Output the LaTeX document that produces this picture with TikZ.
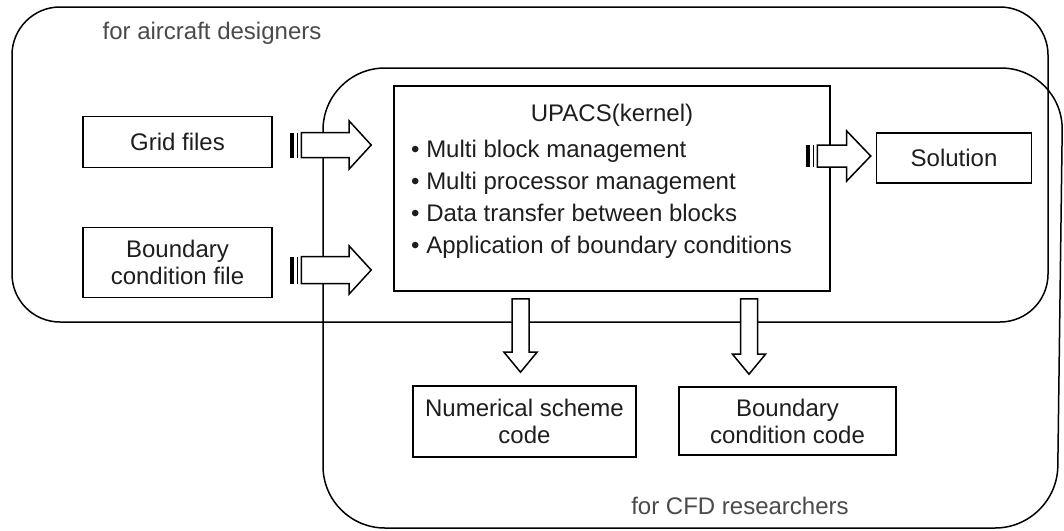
\documentclass[tikz,border=0pt]{standalone}
\usepackage{fontspec}
\setmainfont{Liberation Sans}
\usetikzlibrary{calc}
\definecolor{txt}{HTML}{1E1E1E}
\definecolor{lbl}{HTML}{4A4A4A}
\tikzset{
  frame/.style={draw=black, line width=1.5, rounded corners=#1},
  box/.style={draw=black, line width=1.6, fill=white, inner sep=0pt, align=center,
    text=txt, font=\fontsize{24}{27}\selectfont},
  ktext/.style={anchor=base west, inner sep=0pt, text=txt, font=\fontsize{24}{27}\selectfont},
  grouplabel/.style={inner sep=0pt, text=lbl, font=\fontsize{24}{27}\selectfont},
  arrowbody/.style={draw=black, line width=1.5, fill=white, line join=miter},
}
% striped right arrow: #1 tail point (stripe start), #2 tip point, #3 shaft half height, #4 head half height, #5 head length
\newcommand\stripedarrow[5]{%
  \fill[black] let \p1=(#1) in (\x1,\y1-#3) rectangle (\x1+4.5,\y1+#3);
  \draw[line width=1.5] let \p1=(#1) in (\x1+7.5,\y1-#3) -- (\x1+7.5,\y1+#3);
  \draw[arrowbody] let \p1=(#1), \p2=(#2) in
    (\x1+11.5,\y1-#3) -- (\x2-#5,\y1-#3) -- (\x2-#5,\y1-#4) -- (\x2,\y1)
    -- (\x2-#5,\y1+#4) -- (\x2-#5,\y1+#3) -- (\x1+11.5,\y1+#3) -- cycle;
}
% down block arrow: #1 tail point, #2 tip point
\newcommand\downblockarrow[2]{%
  \draw[arrowbody] let \p1=(#1), \p2=(#2) in
    (\x1-8.5,\y1) -- (\x1+8.5,\y1) -- (\x1+8.5,\y2+20) -- (\x1+16.5,\y2+20) -- (\x1,\y2)
    -- (\x1-16.5,\y2+20) -- (\x1-8.5,\y2+20) -- cycle;
}
\begin{document}
\begin{tikzpicture}[x=1pt,y=-1pt]
\useasboundingbox (0,0) rectangle (1064,530);
\fill[white] (0,0) rectangle (1064,530);

% group frames
\draw[frame=48] (12,7) rectangle (1048,322);
\draw[frame=62] (323,68) -- (1063,68) -- (1057,528) -- (323,528) -- cycle;
\node[grouplabel] (lblair) at (212,33) {for aircraft designers};
\node[grouplabel] (lblcfd) at (740,506) {for CFD researchers};

% boxes
\node[box, minimum width=189, minimum height=51] (grid) at (177.5,142) {Grid files};
\node[box, minimum width=189, minimum height=70] (bcf) at (177.5,262.5) {Boundary\\condition file};
\node[box, minimum width=436, minimum height=205] (kernel) at (612,188.5) {};
\node[box, minimum width=155, minimum height=50] (sol) at (954,158) {Solution};
\node[box, minimum width=223, minimum height=71] (num) at (524.5,421.5) {Numerical scheme\\code};
\node[box, minimum width=217, minimum height=68] (bcc) at (787.5,421) {Boundary\\condition code};

% kernel text
\node[ktext, anchor=base] (ktitle) at (612,121) {UPACS(kernel)};
\node[ktext] (k1) at (411,157) {\textbullet\ Multi block management};
\node[ktext] (k2) at (411,189) {\textbullet\ Multi processor management};
\node[ktext] (k3) at (411,221) {\textbullet\ Data transfer between blocks};
\node[ktext] (k4) at (411,253) {\textbullet\ Application of boundary conditions};

% arrows
\coordinate (ga1) at ($(grid.east)+(17,3)$);
\coordinate (ga2) at ($(kernel.west |- ga1)+(-22,0)$);
\stripedarrow{ga1}{ga2}{12.5}{24}{22}
\coordinate (ba1) at ($(bcf.east)+(17,7.5)$);
\coordinate (ba2) at ($(kernel.west |- ba1)+(-22,0)$);
\stripedarrow{ba1}{ba2}{13.5}{24}{22}
\coordinate (sa1) at ($(kernel.east)+(-25,-32.5)$);
\coordinate (sa2) at ($(sol.west |- sa1)+(-5,0)$);
\stripedarrow{sa1}{sa2}{11}{25}{24}

\coordinate (da1) at (kernel.south -| num.north);
\coordinate (db1) at ($(kernel.south)+(137,0)$);
\downblockarrow{$(da1)+(-4,7)$}{$(num.north)+(-4,-13)$}
\downblockarrow{$(db1)+(0,7)$}{$(db1 |- bcc.north)+(0,-12)$}
\end{tikzpicture}
\end{document}
